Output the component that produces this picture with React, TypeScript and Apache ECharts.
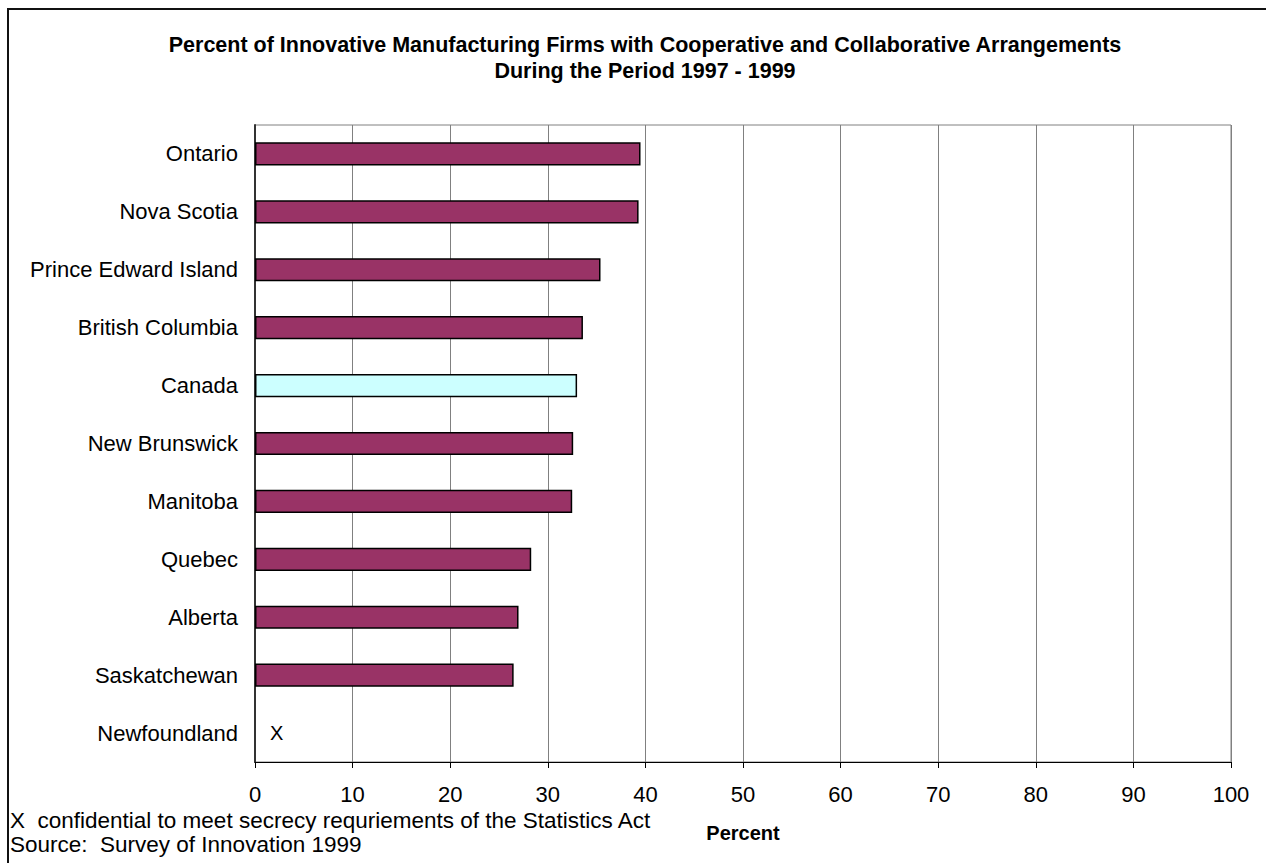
import React, { useEffect, useRef } from "react";
import * as echarts from "echarts";

const categories = [
  "Ontario",
  "Nova Scotia",
  "Prince Edward Island",
  "British Columbia",
  "Canada",
  "New Brunswick",
  "Manitoba",
  "Quebec",
  "Alberta",
  "Saskatchewan",
  "Newfoundland",
];
const values: (number | null)[] = [39.5, 39.3, 35.4, 33.6, 33.0, 32.6, 32.5, 28.3, 27.0, 26.5, 0];
const highlight = "Canada";
const confidential = "Newfoundland";
const xTicks = [0, 10, 20, 30, 40, 50, 60, 70, 80, 90, 100];

const titleLines = [
  "Percent of Innovative Manufacturing Firms with Cooperative and Collaborative Arrangements",
  "During the Period 1997 - 1999",
];
const footnotes = [
  "X  confidential to meet secrecy requriements of the Statistics Act",
  "Source:  Survey of Innovation 1999",
];
const axisName = "Percent";

const FONT = "'Liberation Sans', Arial, Helvetica, sans-serif";

export default function App() {
  const ref = useRef<HTMLDivElement>(null);
  useEffect(() => {
    if (!ref.current) return;
    const chart = echarts.init(ref.current, null, { renderer: "svg" });
    const data = categories.map((c, i) => {
      if (c === confidential) {
        return {
          value: values[i],
          itemStyle: { borderWidth: 0, color: "transparent" },
          label: {
            show: true,
            position: "right",
            distance: 15,
            formatter: "X",
            color: "#000",
            fontSize: 20,
            fontFamily: FONT,
          },
        };
      }
      return {
        value: values[i],
        itemStyle: { color: c === highlight ? "#CCFFFF" : "#993366" },
      };
    });
    chart.setOption({
      animation: false,
      backgroundColor: "#fff",
      title: {
        text: titleLines.join("\n"),
        left: 640,
        top: 27,
        textAlign: "center",
        textStyle: {
          fontFamily: FONT,
          fontSize: 21.5,
          fontWeight: "bold",
          color: "#000",
          lineHeight: 26,
        },
      },
      grid: {
        left: 255,
        right: 35,
        top: 125,
        bottom: 101,
        show: true,
        borderColor: "#808080",
        borderWidth: 1,
        containLabel: false,
      },
      xAxis: {
        type: "value",
        min: 0,
        max: 100,
        interval: 10,
        name: axisName,
        nameLocation: "middle",
        nameGap: 61,
        nameTextStyle: {
          fontFamily: FONT,
          fontSize: 20,
          fontWeight: "bold",
          color: "#000",
        },
        axisLine: { show: true, onZero: false, lineStyle: { color: "#000", width: 1 } },
        axisTick: { show: true, length: 6, lineStyle: { color: "#000" } },
        splitLine: { show: true, lineStyle: { color: "#808080", width: 1 } },
        axisLabel: {
          margin: 21,
          color: "#000",
          fontSize: 22,
          fontFamily: FONT,
          formatter: (v: number) => (xTicks.includes(v) ? String(v) : ""),
        },
      },
      yAxis: {
        type: "category",
        data: categories,
        inverse: true,
        axisLine: { show: true, lineStyle: { color: "#333", width: 2 } },
        axisTick: { show: false },
        splitLine: { show: false },
        axisLabel: {
          margin: 17,
          color: "#000",
          fontSize: 22,
          fontFamily: FONT,
        },
      },
      series: [
        {
          type: "bar",
          data,
          barWidth: "40%",
          itemStyle: { borderColor: "#000", borderWidth: 1.5 },
        },
      ],
      graphic: [
        {
          type: "rect",
          shape: { x: 8, y: 9, width: 1400, height: 1000 },
          style: { fill: "none", stroke: "#111", lineWidth: 2 },
          silent: true,
        },
        {
          type: "text",
          left: 10,
          top: 809,
          style: { text: footnotes[0], fill: "#000", fontSize: 22.5, fontFamily: FONT },
        },
        {
          type: "text",
          left: 10,
          top: 833,
          style: { text: footnotes[1], fill: "#000", fontSize: 22.5, fontFamily: FONT },
        },
      ],
    });
    return () => chart.dispose();
  }, []);
  return (
    <div
      ref={ref}
      style={{ position: "absolute", left: 0, top: 0, width: 1266, height: 863 }}
    />
  );
}
